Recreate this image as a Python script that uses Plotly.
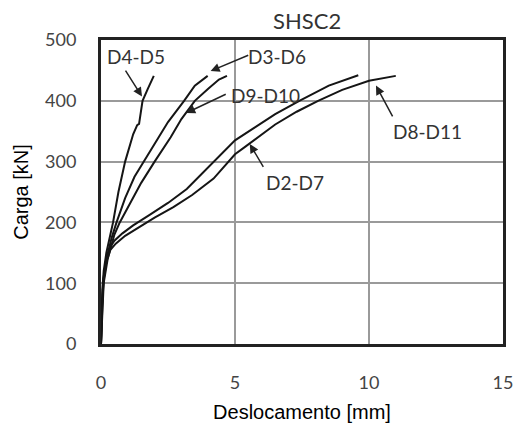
import plotly.graph_objects as go

# ---- data ----
d4d5_x = [0, 0.02, 0.05, 0.1, 0.2, 0.35, 0.45, 0.65, 0.9, 1.2, 1.35, 1.42, 1.55, 1.75, 1.97]
d4d5_y = [0, 40, 90, 120, 150, 180, 200, 250, 300, 345, 360, 362, 400, 420, 441]

d3d6_x = [0, 0.03, 0.08, 0.2, 0.4, 0.58, 0.9, 1.25, 1.6, 2.0, 2.5, 3.1, 3.5, 3.98]
d3d6_y = [0, 50, 100, 140, 175, 200, 240, 275, 300, 330, 365, 400, 425, 441]

d9d10_x = [0, 0.04, 0.1, 0.25, 0.5, 0.7, 1.0, 1.5, 2.0, 2.6, 3.0, 3.5, 4.0, 4.4, 4.7]
d9d10_y = [0, 50, 100, 140, 180, 200, 225, 265, 300, 340, 370, 400, 420, 435, 441]

d2d7_x = [0, 0.03, 0.1, 0.2, 0.35, 0.5, 0.8, 1.2, 1.8, 2.5, 3.2, 4.0, 5.0, 5.7, 6.5, 7.4, 8.5, 9.6]
d2d7_y = [0, 60, 110, 140, 160, 170, 182, 195, 212, 232, 255, 290, 335, 355, 378, 400, 425, 442]

d8d11_x = [0, 0.03, 0.1, 0.2, 0.35, 0.55, 0.9, 1.4, 2.0, 2.7, 3.4, 4.2, 5.0, 5.4, 6.5, 7.3, 8.1, 9.0, 10.0, 11.0]
d8d11_y = [0, 55, 105, 135, 155, 165, 178, 192, 208, 225, 245, 272, 312, 325, 361, 382, 400, 418, 433, 441]

x_ticks = [0, 5, 10, 15]
y_ticks = [0, 100, 200, 300, 400, 500]

label_text = ["D4-D5", "D3-D6", "D9-D10", "D2-D7", "D8-D11"]
label_x = [1.31, 6.57, 6.13, 7.23, 12.2]
label_y = [473, 473, 409, 265, 350]
arrow_tip_x = [1.53, 4.09, 3.18, 5.55, 10.26]
arrow_tip_y = [407, 449, 380, 329, 425]
arrow_tail_x = [0.88, 5.55, 4.71, 6.09, 10.91]
arrow_tail_y = [452, 476, 412, 289, 372]

series = [
    ("D4-D5", d4d5_x, d4d5_y),
    ("D3-D6", d3d6_x, d3d6_y),
    ("D9-D10", d9d10_x, d9d10_y),
    ("D2-D7", d2d7_x, d2d7_y),
    ("D8-D11", d8d11_x, d8d11_y),
]

fig = go.Figure()
for name, xs, ys in series:
    fig.add_trace(go.Scatter(x=xs, y=ys, mode="lines", name=name,
                             line=dict(color="#151515", width=2), showlegend=False))

annotations = []
for t, lx, ly in zip(label_text, label_x, label_y):
    annotations.append(dict(x=lx, y=ly, xref="x", yref="y", text=t, showarrow=False,
                            font=dict(family="Lato", size=19, color="#333333")))
for tx, ty, ax, ay in zip(arrow_tip_x, arrow_tip_y, arrow_tail_x, arrow_tail_y):
    annotations.append(dict(x=tx, y=ty, xref="x", yref="y", ax=ax, ay=ay,
                            axref="x", ayref="y", text="", showarrow=True,
                            arrowhead=2, arrowsize=1.2, arrowwidth=1.5,
                            arrowcolor="#222222"))

fig.update_layout(
    width=525, height=433,
    margin=dict(l=101, r=12, t=40, b=80),
    paper_bgcolor="white", plot_bgcolor="white",
    title=dict(text="SHSC2", x=0.585, xanchor="center", y=1 - 21 / 433,
               yanchor="middle", yref="container",
               font=dict(family="Lato", size=22, color="#333333")),
    annotations=annotations,
    xaxis=dict(range=[0, 15], tickvals=x_ticks, showgrid=True, gridcolor="#9a9a9a",
               gridwidth=2, zeroline=False, showline=True, linecolor="#222222",
               linewidth=3, mirror=True, ticks="", ticklabelstandoff=20,
               tickfont=dict(family="Lato", size=18, color="#444444"),
               title=dict(text="Deslocamento [mm]", standoff=14,
                          font=dict(family="Liberation Sans", size=20, color="#000000"))),
    yaxis=dict(range=[0, 500], tickvals=y_ticks, showgrid=True, gridcolor="#9a9a9a",
               gridwidth=2, zeroline=False, showline=True, linecolor="#222222",
               linewidth=3, mirror=True, ticks="", ticklabelstandoff=18,
               tickfont=dict(family="Lato", size=18, color="#444444"),
               title=dict(text="Carga [kN]", standoff=12,
                          font=dict(family="Liberation Sans", size=20, color="#000000"))),
)

fig.write_html("out.html")
